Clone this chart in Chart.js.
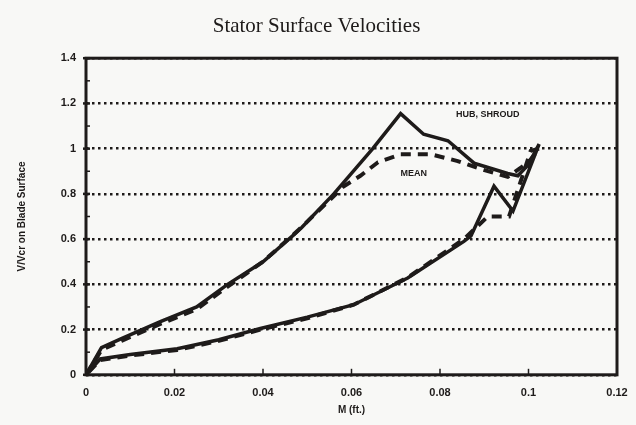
<!DOCTYPE html>
<html>
<head>
<meta charset="utf-8">
<script src="https://cdn.jsdelivr.net/npm/chart.js@4/dist/chart.umd.min.js"></script>
<style>
  html, body { margin: 0; padding: 0; background: #f8f8f6; }
  #wrap { width: 636px; height: 425px; }
</style>
</head>
<body>
<div id="wrap"><canvas id="myChart" width="636" height="425"></canvas></div>
<script>
// Hub / shroud (solid) - suction side, leading edge to trailing edge
const hubUpperX = [0, 0.0035, 0.008, 0.0168, 0.025, 0.032, 0.04, 0.047, 0.0487, 0.056, 0.0648, 0.0711, 0.0763, 0.0818, 0.0877, 0.0953, 0.0976, 0.1, 0.1024];
const hubUpperY = [0, 0.12, 0.16, 0.235, 0.3, 0.40, 0.5, 0.62, 0.65, 0.8, 1.0, 1.155, 1.064, 1.035, 0.936, 0.89, 0.88, 0.93, 1.02];
// Hub / shroud (solid) - pressure side
const hubLowerX = [0, 0.0032, 0.01, 0.0206, 0.03, 0.0394, 0.05, 0.0605, 0.0727, 0.0854, 0.087, 0.0922, 0.0965, 0.1024];
const hubLowerY = [0, 0.07, 0.09, 0.115, 0.155, 0.205, 0.255, 0.31, 0.428, 0.59, 0.614, 0.834, 0.724, 1.02];

// Mean (dashed)
const meanUpperX = [0, 0.0035, 0.008, 0.0168, 0.025, 0.032, 0.04, 0.048, 0.056, 0.058, 0.062, 0.066, 0.0711, 0.078, 0.084, 0.0892, 0.0953, 0.1, 0.1024];
const meanUpperY = [0, 0.11, 0.15, 0.225, 0.29, 0.39, 0.5, 0.64, 0.79, 0.83, 0.88, 0.94, 0.975, 0.975, 0.945, 0.91, 0.875, 0.94, 1.0];
const meanLowerX = [0, 0.0032, 0.01, 0.0206, 0.03, 0.0394, 0.05, 0.0605, 0.0727, 0.0854, 0.0908, 0.0956, 0.1005, 0.1024];
const meanLowerY = [0, 0.065, 0.085, 0.11, 0.15, 0.2, 0.25, 0.31, 0.43, 0.6, 0.70, 0.70, 0.99, 1.0];

const xTicks = [0, 0.02, 0.04, 0.06, 0.08, 0.1, 0.12];
const yTicks = [0, 0.2, 0.4, 0.6, 0.8, 1, 1.2, 1.4];

// texte dans le graphique
const labelTexts = ['HUB, SHROUD', 'MEAN'];
const labelX = [0.0836, 0.0711];
const labelY = [1.152, 0.892];

// boucle fermée : extrados puis intrados à rebours
function loop(ux, uy, lx, ly) {
  const pts = ux.map((x, i) => ({ x: x, y: uy[i] }));
  for (let i = lx.length - 1; i >= 0; i--) pts.push({ x: lx[i], y: ly[i] });
  return pts;
}

const ink = '#1e1b1a';

const extras = {
  id: 'extras',
  afterDraw(chart) {
    const { ctx, chartArea: a, scales } = chart;
    ctx.save();
    // cadre
    ctx.strokeStyle = ink;
    ctx.lineWidth = 3;
    ctx.strokeRect(a.left, a.top, a.right - a.left, a.bottom - a.top);
    // graduations
    ctx.lineWidth = 1.5;
    for (let v = 0.1; v < 1.4; v += 0.2) {
      const y = scales.y.getPixelForValue(v);
      ctx.beginPath(); ctx.moveTo(a.left, y); ctx.lineTo(a.left + 4, y); ctx.stroke();
    }
    ctx.lineWidth = 2.5;
    yTicks.forEach(v => {
      const y = scales.y.getPixelForValue(v);
      ctx.beginPath(); ctx.moveTo(a.left - 3, y); ctx.lineTo(a.left + 4, y); ctx.stroke();
    });
    ctx.lineWidth = 1.5;
    xTicks.slice(1, -1).forEach(v => {
      const x = scales.x.getPixelForValue(v);
      ctx.beginPath(); ctx.moveTo(x, a.bottom); ctx.lineTo(x, a.bottom - 6); ctx.stroke();
    });
    // étiquettes
    ctx.fillStyle = ink;
    ctx.font = 'bold 9px "Liberation Sans", Arial, sans-serif';
    ctx.textBaseline = 'middle';
    labelTexts.forEach((t, i) => {
      ctx.fillText(t, scales.x.getPixelForValue(labelX[i]), scales.y.getPixelForValue(labelY[i]));
    });
    ctx.restore();
  }
};

const ctx = document.getElementById('myChart').getContext('2d');
const myChart = new Chart(ctx, {
  type: 'scatter',
  data: {
    datasets: [
      {
        label: 'HUB, SHROUD',
        data: loop(hubUpperX, hubUpperY, hubLowerX, hubLowerY),
        showLine: true,
        borderColor: ink,
        borderWidth: 3.5,
        pointRadius: 0,
        tension: 0
      },
      {
        label: 'MEAN',
        data: loop(meanUpperX, meanUpperY, meanLowerX, meanLowerY),
        showLine: true,
        borderColor: ink,
        borderWidth: 4,
        borderDash: [10, 7],
        pointRadius: 0,
        tension: 0
      }
    ]
  },
  options: {
    responsive: false,
    animation: false,
    layout: { padding: { left: 16, right: 19, top: 0, bottom: 9 } },
    plugins: {
      legend: { display: false },
      tooltip: { enabled: false },
      title: {
        display: true,
        text: 'Stator Surface Velocities',
        color: ink,
        font: { family: '"Liberation Serif", "DejaVu Serif", serif', size: 21, weight: 'normal' },
        padding: { top: 14, bottom: 19 }
      }
    },
    scales: {
      x: {
        type: 'linear',
        min: 0,
        max: 0.12,
        afterBuildTicks: s => { s.ticks = xTicks.map(v => ({ value: v })); },
        grid: { display: false },
        border: { display: false },
        ticks: {
          color: ink,
          font: { family: '"Liberation Sans", Arial, sans-serif', size: 11, weight: 'bold' },
          padding: 4,
          maxRotation: 0,
          callback: v => String(Math.round(v * 100) / 100)
        },
        title: {
          display: true,
          text: 'M (ft.)',
          color: ink,
          font: { family: '"Liberation Sans", Arial, sans-serif', size: 10, weight: 'bold' },
          padding: { top: 0, bottom: 0 }
        }
      },
      y: {
        min: 0,
        max: 1.4,
        afterBuildTicks: s => { s.ticks = yTicks.map(v => ({ value: v })); },
        afterFit: s => { s.width = 70; },
        grid: {
          color: ink,
          lineWidth: 2.5,
          drawTicks: false
        },
        border: { display: false, dash: [2.5, 3.5] },
        ticks: {
          color: ink,
          font: { family: '"Liberation Sans", Arial, sans-serif', size: 11, weight: 'bold' },
          padding: 10,
          callback: v => String(Math.round(v * 10) / 10)
        },
        title: {
          display: true,
          text: 'V/Vcr on Blade Surface',
          color: ink,
          font: { family: '"Liberation Sans", Arial, sans-serif', size: 10, weight: 'bold' },
          padding: { top: 0, bottom: 14 }
        }
      }
    }
  },
  plugins: [extras]
});
</script>
</body>
</html>
